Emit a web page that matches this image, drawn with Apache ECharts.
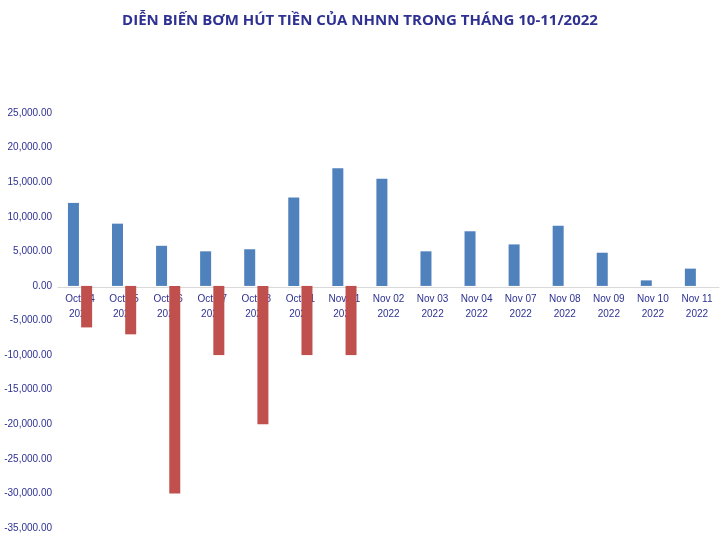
<!DOCTYPE html>
<html>
<head>
<meta charset="utf-8">
<script src="https://cdn.jsdelivr.net/npm/echarts@6/dist/echarts.min.js"></script>
<style>html,body{margin:0;background:#fff}#c{width:720px;height:537px}</style>
</head>
<body>
<div id="c"></div>
<script>
var categories = ['Oct 24\n2022', 'Oct 25\n2022', 'Oct 26\n2022', 'Oct 27\n2022', 'Oct 28\n2022', 'Oct 31\n2022', 'Nov 01\n2022',
  'Nov 02\n2022', 'Nov 03\n2022', 'Nov 04\n2022', 'Nov 07\n2022', 'Nov 08\n2022', 'Nov 09\n2022', 'Nov 10\n2022', 'Nov 11\n2022'];
var bom = [12000, 9000, 5800, 5000, 5300, 12800, 17000, 15500, 5000, 7900, 6000, 8700, 4800, 800, 2500];
var hut = [-6000, -7000, -30000, -10000, -20000, -10000, -10000, null, null, null, null, null, null, null, null];

var chart = echarts.init(document.getElementById('c'));
chart.setOption({
  animation: false,
  title: {
    text: 'DIỄN BIẾN BƠM HÚT TIỀN CỦA NHNN TRONG THÁNG 10-11/2022',
    left: 'center', top: 8,
    textStyle: { color: '#2e3192', fontSize: 15, fontWeight: 'bold', fontFamily: 'Open Sans' }
  },
  grid: { left: 58, right: 1, top: 113, bottom: 9, outerBoundsMode: 'none', containLabel: false },
  xAxis: {
    type: 'category',
    data: categories,
    offset: -241,
    axisLine: { onZero: false, lineStyle: { color: '#d9d9d9' } },
    axisTick: { show: false },
    axisLabel: { color: '#2e3192', fontSize: 10, lineHeight: 15, margin: 5, interval: 0 }
  },
  yAxis: {
    type: 'value',
    min: -35000, max: 25000, interval: 5000,
    splitLine: { show: false },
    axisLine: { show: false },
    axisLabel: {
      color: '#2e3192', fontSize: 10, margin: 6,
      formatter: function (v) { return v.toLocaleString('en-US', { minimumFractionDigits: 2 }); }
    }
  },
  series: [
    { name: 'Bơm', type: 'bar', data: bom, barWidth: 11, barGap: '20%', itemStyle: { color: '#4f81bd' } },
    { name: 'Hút', type: 'bar', data: hut, barWidth: 11, z: 3, itemStyle: { color: '#c0504d' } }
  ]
});
</script>
</body>
</html>
